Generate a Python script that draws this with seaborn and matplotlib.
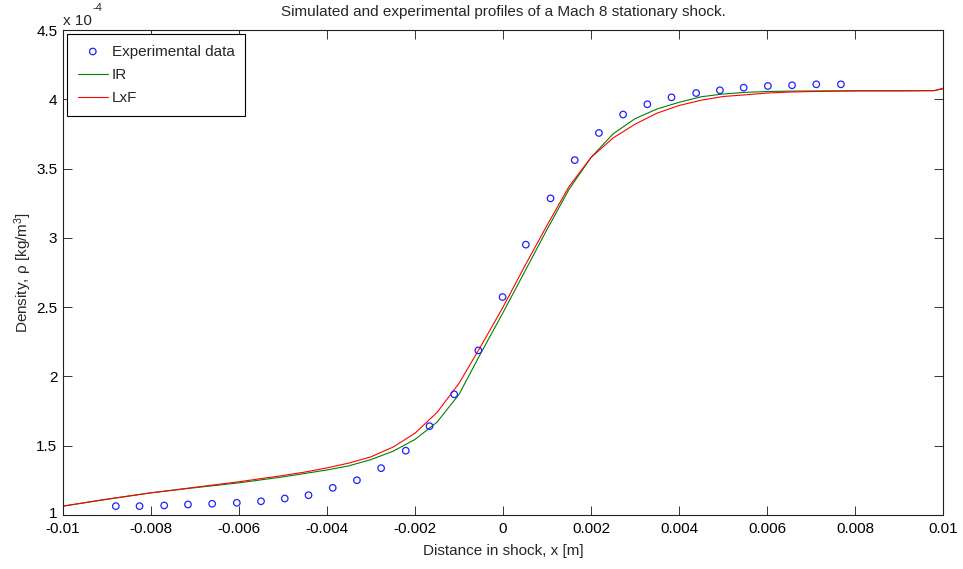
import matplotlib
matplotlib.use("Agg")
import matplotlib.pyplot as plt
import matplotlib.transforms as mtransforms
import seaborn as sns
import pandas as pd

# ---- data (density in units of 1e-4 kg/m^3) ----
exp_x = [-0.00880, -0.00826, -0.00770, -0.00716, -0.00661, -0.00605, -0.00550,
         -0.00496, -0.00442, -0.00387, -0.00332, -0.00277, -0.00221, -0.00167,
         -0.00111, -0.00056, -0.00001, 0.00052, 0.00108, 0.00163, 0.00218,
         0.00273, 0.00328, 0.00383, 0.00439, 0.00493, 0.00547, 0.00602,
         0.00657, 0.00712, 0.00768]
exp_rho = [1.064, 1.064, 1.069, 1.076, 1.081, 1.088, 1.099, 1.119, 1.143, 1.196,
           1.251, 1.338, 1.464, 1.641, 1.871, 2.188, 2.573, 2.951, 3.285, 3.561,
           3.757, 3.890, 3.964, 4.014, 4.045, 4.065, 4.084, 4.096, 4.101, 4.108,
           4.108]

sim_x = [-0.0100, -0.0090, -0.0080, -0.0070, -0.0060, -0.0050, -0.0045, -0.0040,
         -0.0035, -0.0030, -0.0025, -0.0020, -0.0015, -0.0010, -0.0005, 0.0000,
         0.0005, 0.0010, 0.0015, 0.0020, 0.0025, 0.0030, 0.0035, 0.0040,
         0.0045, 0.0050, 0.0055, 0.0060, 0.0065, 0.0070, 0.0080, 0.0090,
         0.0098, 0.0100]
ir_rho = [1.064, 1.113, 1.160, 1.197, 1.232, 1.275, 1.300, 1.325,
          1.355, 1.400, 1.460, 1.545, 1.670, 1.870, 2.170, 2.460,
          2.760, 3.060, 3.350, 3.580, 3.750, 3.860, 3.930, 3.978,
          4.018, 4.038, 4.050, 4.056, 4.059, 4.060, 4.062, 4.062,
          4.063, 4.075]
lxf_rho = [1.064, 1.115, 1.160, 1.200, 1.240, 1.285, 1.310, 1.340,
           1.375, 1.420, 1.490, 1.590, 1.740, 1.950, 2.220, 2.500,
           2.800, 3.090, 3.370, 3.580, 3.720, 3.820, 3.900, 3.955,
           3.993, 4.020, 4.032, 4.045, 4.052, 4.056, 4.060, 4.060,
           4.062, 4.080]

x_ticks = [-0.01, -0.008, -0.006, -0.004, -0.002, 0, 0.002, 0.004, 0.006, 0.008, 0.01]
x_ticklabels = ["-0.01", "-0.008", "-0.006", "-0.004", "-0.002", "0",
                "0.002", "0.004", "0.006", "0.008", "0.01"]
y_ticks = [1, 1.5, 2, 2.5, 3, 3.5, 4, 4.5]
y_ticklabels = ["1", "1.5", "2", "2.5", "3", "3.5", "4", "4.5"]

exp_df = pd.DataFrame({"x": exp_x, "rho": exp_rho})
sim_df = pd.DataFrame({"x": sim_x, "IR": ir_rho, "LxF": lxf_rho})

sns.set_theme(style="white")
plt.rcParams["font.family"] = ["Liberation Sans", "DejaVu Sans"]
plt.rcParams["mathtext.fontset"] = "custom"
plt.rcParams["mathtext.rm"] = "Liberation Sans"
plt.rcParams["mathtext.it"] = "Liberation Sans:italic"
FS = 11

fig = plt.figure(figsize=(9.63, 5.69), dpi=100)
W, H = 963, 569
ax = fig.add_axes([63 / W, 1 - 515 / H, (943 - 63) / W, (515 - 30) / H])

sns.scatterplot(data=exp_df, x="x", y="rho", ax=ax, marker="o", s=22,
                facecolor="none", edgecolor="#2020ff", linewidth=0.9,
                label="Experimental data", zorder=3)
sns.lineplot(data=sim_df, x="x", y="IR", ax=ax, color="#008000", linewidth=0.8,
             label="IR", zorder=2)
sns.lineplot(data=sim_df, x="x", y="LxF", ax=ax, color="#ff0000", linewidth=0.8,
             label="LxF", zorder=2)

ax.set_xlim(-0.01, 0.01)
ax.set_ylim(1, 4.5)
ax.set_xticks(x_ticks)
ax.set_xticklabels(x_ticklabels, fontsize=FS)
ax.set_yticks(y_ticks)
ax.set_yticklabels(y_ticklabels, fontsize=FS)
ax.tick_params(direction="in", length=6.5, width=0.7, color="#333333",
               top=True, right=True, bottom=True, left=True,
               labelcolor="black")
ax.tick_params(axis="x", pad=5)
ax.tick_params(axis="y", pad=4)
for sp in ax.spines.values():
    sp.set_visible(True)
    sp.set_color("#222222")
    sp.set_linewidth(0.8)

# nudge the lowest y tick label up a little so it clears "-0.01"
lbl0 = ax.get_yticklabels()[0]
lbl0.set_transform(lbl0.get_transform() +
                   mtransforms.ScaledTranslation(0, 3 / 100, fig.dpi_scale_trans))

ax.set_xlabel("Distance in shock, x [m]", fontsize=FS, labelpad=6)
ax.set_ylabel("Density, \u03c1 [kg/m$^3$]", fontsize=FS, labelpad=1.5)
ax.set_title("Simulated and experimental profiles of a Mach 8 stationary shock.",
             fontsize=FS, pad=10)

fig.text(63 / W, 1 - 25 / H, "x 10", fontsize=FS, ha="left", va="baseline")
fig.text(92 / W, 1 - 11 / H, "-4", fontsize=8, ha="left", va="baseline")

leg = ax.legend(loc="upper left", fontsize=FS, frameon=True, fancybox=False,
                edgecolor="black", framealpha=1, borderaxespad=0.25,
                handlelength=2.0, handletextpad=0.25, labelspacing=0.62,
                borderpad=0.7)
leg.get_frame().set_linewidth(0.8)

fig.savefig("out.png", dpi=100)
